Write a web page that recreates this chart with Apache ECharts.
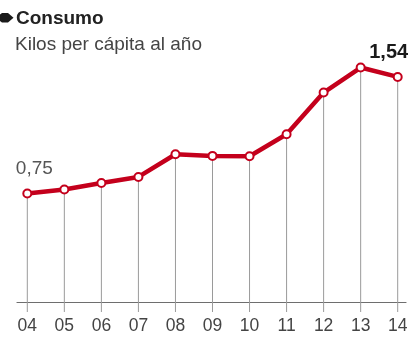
<!DOCTYPE html>
<html>
<head>
<meta charset="utf-8">
<script src="https://cdn.jsdelivr.net/npm/echarts@6/dist/echarts.min.js"></script>
<style>
  html, body { margin: 0; padding: 0; background: #fff; }
  #chart { width: 414px; height: 345px; }
</style>
</head>
<body>
<div id="chart"></div>
<script>
// Consumo: kilos per cápita al año, 2004–2014
const years = ['04', '05', '06', '07', '08', '09', '10', '11', '12', '13', '14'];
const consumo = [0.75, 0.775, 0.816, 0.854, 0.996, 0.986, 0.984, 1.122, 1.383, 1.54, 1.481];
const labelledPoints = { 0: '0,75', 9: '1,54' };

const yMin = 0.07;
const yMax = 1.7;
const red = '#c4001c';
const FONT = 'Liberation Sans, Arial, sans-serif';

const chart = echarts.init(document.getElementById('chart'), null, { renderer: 'canvas' });

const lineData = consumo.map((v, i) => {
  if (i === 0) {
    return {
      value: v,
      label: {
        show: true, formatter: labelledPoints[i], position: 'top', distance: 10,
        offset: [7, 0], fontSize: 19, color: '#555', fontFamily: FONT
      }
    };
  }
  if (i === 9) {
    return {
      value: v,
      label: {
        show: true, formatter: labelledPoints[i], position: 'top', distance: 6,
        offset: [28, 6], fontSize: 20, fontWeight: 'bold', color: '#1a1a1a', fontFamily: FONT
      }
    };
  }
  return v;
});

chart.setOption({
  animation: false,
  grid: [
    { left: 27.3, right: 16.3, top: 42, bottom: 43 },
    { left: 17, right: 8, top: 42, bottom: 43 }
  ],
  xAxis: [
    {
      type: 'category', data: years, boundaryGap: false, gridIndex: 0,
      axisLine: { show: false },
      axisTick: { show: false },
      axisLabel: { margin: 15, fontSize: 17.5, color: '#444', fontFamily: FONT },
      splitLine: { show: false }
    },
    {
      type: 'value', gridIndex: 1, min: 0, max: 1,
      axisLine: { show: true, lineStyle: { color: '#6e6e6e', width: 1.2 } },
      axisTick: { show: false }, axisLabel: { show: false }, splitLine: { show: false }
    }
  ],
  yAxis: [
    { type: 'value', gridIndex: 0, min: yMin, max: yMax, show: false },
    { type: 'value', gridIndex: 1, min: yMin, max: yMax, show: false }
  ],
  graphic: [
    {
      type: 'polygon', left: 0, top: 13, z: 10,
      shape: { points: [[0, 1.5], [2, 0], [8, 0], [13.5, 4.8], [8, 9.6], [2, 9.6], [0, 8]] },
      style: { fill: '#1a1a1a' }
    },
    {
      type: 'text', x: 16, y: 19, z: 10,
      style: { text: 'Consumo', fontSize: 19, fontWeight: 'bold', fill: '#222', fontFamily: FONT, textVerticalAlign: 'middle' }
    },
    {
      type: 'text', x: 15, y: 45, z: 10,
      style: { text: 'Kilos per cápita al año', fontSize: 19, fill: '#444', fontFamily: FONT, textVerticalAlign: 'middle' }
    }
  ],
  series: [
    {
      // drop lines from each point through the axis, ending as a tick
      type: 'custom', xAxisIndex: 0, yAxisIndex: 0, z: 1,
      data: consumo.map((v, i) => [i, v]),
      renderItem: function (params, api) {
        const top = api.coord([api.value(0), api.value(1)]);
        const base = api.coord([api.value(0), yMin]);
        return {
          type: 'line',
          shape: { x1: top[0], y1: top[1], x2: base[0], y2: base[1] + 10 },
          style: { stroke: '#9a9a9a', lineWidth: 1 }
        };
      }
    },
    {
      type: 'line', xAxisIndex: 0, yAxisIndex: 0, z: 5,
      data: lineData,
      symbol: 'circle', symbolSize: 8, showAllSymbol: true,
      lineStyle: { color: red, width: 4.5 },
      itemStyle: { color: '#fff', borderColor: red, borderWidth: 2 },
      label: { show: false }
    }
  ]
});
</script>
</body>
</html>
